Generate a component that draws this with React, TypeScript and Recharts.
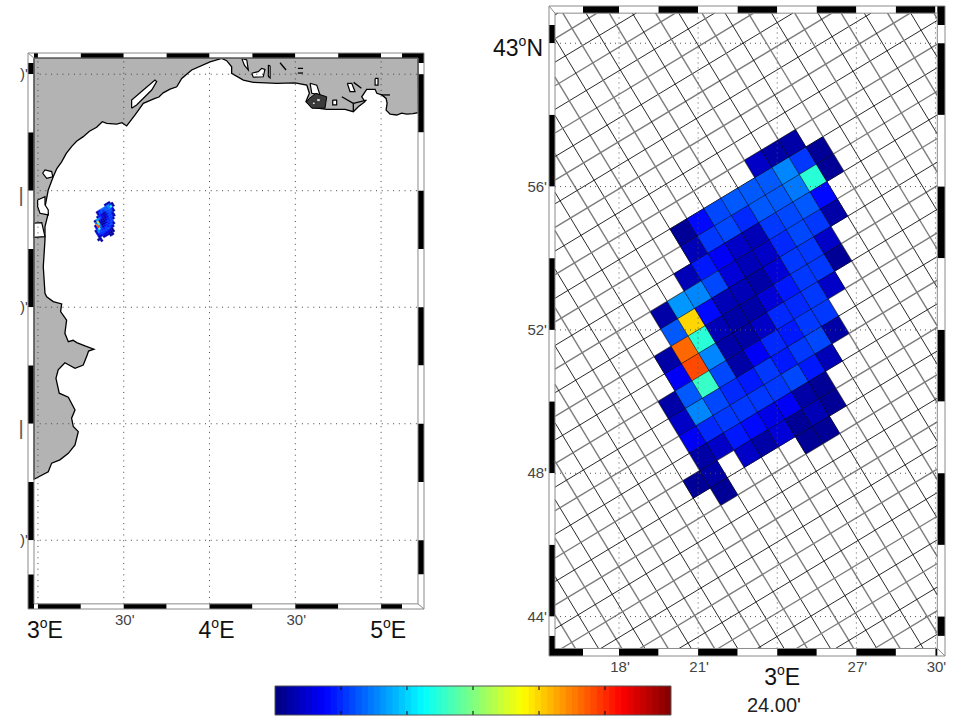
import React from "react";
import { ScatterChart, Scatter, XAxis, YAxis, ReferenceArea } from "recharts";

const W = 955, H = 717;
const FONT = "'Liberation Sans', Arial, sans-serif";

type P = { x: number; y: number };
const pts = (a: number[][]): P[] => a.map(([x, y]) => ({ x, y }));

// ---------- left map (degrees) ----------
const coast = [
  [2.977,43.569],[5.215,43.569],[5.217,43.335],[5.185,43.331],[5.150,43.329],[5.120,43.333],[5.091,43.325],[5.052,43.329],[5.029,43.346],[5.035,43.375],[5.029,43.396],
  [5.004,43.411],[4.975,43.418],[4.965,43.435],[4.916,43.435],[4.887,43.403],[4.906,43.382],[4.867,43.360],[4.838,43.339],
  [4.790,43.349],[4.683,43.349],[4.596,43.358],[4.562,43.382],[4.582,43.418],[4.567,43.453],[4.498,43.463],[4.392,43.461],
  [4.255,43.465],[4.197,43.475],[4.129,43.504],[4.129,43.532],[4.100,43.558],[4.071,43.568],[4.003,43.553],[3.896,43.518],
  [3.838,43.482],[3.809,43.446],[3.770,43.436],[3.730,43.420],[3.705,43.402],[3.682,43.396],[3.614,43.375],[3.590,43.350],[3.566,43.325],[3.517,43.278],[3.490,43.292],[3.459,43.286],
  [3.401,43.289],[3.375,43.296],[3.342,43.272],[3.300,43.255],[3.264,43.232],[3.225,43.212],[3.196,43.189],[3.165,43.160],[3.138,43.124],[3.110,43.095],[3.089,43.060],[3.060,43.003],[3.041,42.931],
  [3.060,42.903],[3.041,42.846],[3.041,42.789],[3.031,42.674],[3.041,42.560],[3.051,42.545],[3.089,42.524],[3.138,42.514],
  [3.132,42.481],[3.167,42.445],[3.157,42.388],[3.177,42.352],[3.205,42.358],[3.226,42.348],[3.274,42.334],[3.326,42.320],[3.295,42.312],[3.287,42.295],
  [3.264,42.252],[3.216,42.238],[3.157,42.262],[3.118,42.231],[3.105,42.195],[3.124,42.131],[3.177,42.114],[3.216,42.059],
  [3.196,42.024],[3.206,41.988],[3.235,41.966],[3.216,41.909],[3.177,41.873],[3.128,41.845],[3.080,41.831],[3.060,41.794],
  [2.977,41.762],[2.977,43.569],
];
const lagoons = [
  [[3.546,43.354],[3.546,43.389],[3.614,43.432],[3.682,43.475],[3.692,43.468],[3.663,43.432],[3.575,43.368],[3.546,43.354]],
  [[3.027,43.075],[3.041,43.089],[3.080,43.082],[3.086,43.060],[3.051,43.053],[3.027,43.075]],
  [[2.977,42.861],[3.022,42.863],[3.041,42.803],[2.977,42.800],[2.977,42.861]],
  [[2.998,42.960],[3.041,42.974],[3.041,42.939],[3.060,42.918],[3.060,42.896],[3.012,42.903],[2.998,42.932],[2.998,42.960]],
  [[4.246,43.504],[4.284,43.511],[4.304,43.525],[4.323,43.521],[4.313,43.489],[4.255,43.487],[4.246,43.504]],
  [[4.188,43.568],[4.217,43.561],[4.226,43.518],[4.203,43.539],[4.188,43.568]],
  [[4.343,43.539],[4.353,43.535],[4.353,43.484],[4.343,43.490],[4.343,43.539]],
  [[4.586,43.461],[4.625,43.453],[4.644,43.411],[4.596,43.418],[4.586,43.461]],
  [[4.718,43.389],[4.741,43.389],[4.741,43.368],[4.718,43.368],[4.718,43.389]],
  [[4.803,43.461],[4.829,43.461],[4.848,43.425],[4.819,43.425],[4.803,43.461]],
  [[4.965,43.482],[4.982,43.482],[4.982,43.453],[4.965,43.453],[4.965,43.482]],
];
const marsh = [[4.580,43.395],[4.620,43.418],[4.683,43.403],[4.673,43.354],[4.596,43.354],[4.565,43.380],[4.580,43.395]];
const marshHoles = [
  [[4.625,43.395],[4.645,43.395],[4.645,43.383],[4.625,43.383],[4.625,43.395]],
  [[4.600,43.380],[4.615,43.380],[4.615,43.370],[4.600,43.370],[4.600,43.380]],
];
const shoreLines = [
  [[4.771,43.403],[4.838,43.375],[4.838,43.339]],
  [[4.838,43.375],[4.916,43.389]],
  [[5.000,43.411],[5.052,43.411]],
  [[4.411,43.549],[4.446,43.518]],
  [[4.515,43.525],[4.545,43.525]],
  [[4.515,43.505],[4.545,43.505]],
  [[4.840,43.465],[4.885,43.440]],
];
const leftLonTicks = [3, 3.5, 4, 4.5, 5];
const leftLonLabels: Record<number, [string, string, string]> = {
  3: ["3", "o", "E"], 3.5: ["30'", "", ""], 4: ["4", "o", "E"], 4.5: ["30'", "", ""], 5: ["5", "o", "E"],
};
const leftLatTicks = [43.5, 43, 42.5, 42, 41.5];
const leftLatLabels: Record<number, string> = { 43.5: ")'", 43: "|", 42.5: ")'", 42: "|", 41.5: ")'" };
const leftLonBreaks = [2.977, 3, 3.25, 3.5, 3.75, 4, 4.25, 4.5, 4.75, 5, 5.122, 5.215];
const leftLatBreaks = [43.569, 43.548, 43.5, 43.25, 43, 42.75, 42.5, 42.25, 42, 41.75, 41.5, 41.353, 41.227];
const leftDomX: [number, number] = [2.942, 5.25];
const leftDomY: [number, number] = [41.205, 43.591];

// ---------- right map (minutes: lon past 3E, lat past 42N) ----------
const rightLonTicks = [18, 21, 24, 27, 30];
const rightLonLabels: Record<number, string> = { 18: "18'", 21: "21'", 27: "27'", 30: "30'" };
const rightLatTicks = [60, 56, 52, 48, 44];
const rightLatLabels: Record<number, string> = { 56: "56'", 52: "52'", 48: "48'", 44: "44'" };
const rightLonBreaks = [15.573, 16.635, 18, 19.5, 21, 22.5, 24, 25.5, 27, 28.5, 30, 30.07];
const rightLatBreaks = [60.84, 60.51, 60, 58, 56, 54, 52, 50, 48, 46, 44, 43.46, 43.11];
const rightDomX: [number, number] = [15.345, 30.362];
const rightDomY: [number, number] = [42.9, 61.04];

// model mesh georeference
const meshOrigin = { lon: 25.36, lat: 56.24 };
const stepAlong = { lon: 0.6447, lat: 0.2862 };
const stepAcross = { lon: 0.3963, lat: -0.483 };

// cell values (percent of colour scale); row index, first column, values
const rowIndex = [-2, -1, 0, 1, 2, 3, 4, 5, 6, 7, 8, 9, 10, 11];
const rowFirst = [-2, -7, -7, -8, -10, -10, -11, -11, -12, -12, -12, -12, -13, -12];
const rowValues: (number | null)[][] = [
  [7.5, 3.5, 3.5],
  [3, 12.5, 20, 21.5, 21, 21.5, 26, 18.5, 3],
  [5.5, 17.5, 20, 16.5, 21.5, 21.5, 23.5, 42, 3],
  [5.5, 14.5, 12, 7.5, 5, 17.5, 20, 21, 12.5],
  [3.5, 27, 25, 20, 9, 5.5, 7.5, 16.5, 19, 18.5, 3.5],
  [21, 66, 12.5, 5.5, 5.5, 4, 9, 17.5, 17.5, 7],
  [4, 78, 42, 5.5, 4, 4, 9, 15.5, 18.5, 17.5, 3],
  [11, 81, 26, 4, 4, 7.5, 16.5, 16.5, 17.5, 7.5],
  [3.5, 21, 43, 20, 4, 11, 16.5, 15.5, 17.5, 17.5],
  [7.5, 26, 19, 16.5, 15.5, 17.5, 15.5, 17.5, 20, 4],
  [11, 16.5, 17.5, 17.5, 18.5, 17.5, 19, 15, 5.5],
  [4.5, 7, 14.5, 12.5, 10.5, 11, 3.5, 3],
  [2.5, 4, null, 6.5, 4, 9, 3, 5.5, 2.5],
  [3, null, null, null, null, 3, 3],
];

const colorLevels = Array.from({ length: 64 }, (_, k) => k);
const colorTicks = [10.67, 21.33, 32, 42.67, 53.33];

// ---------- helpers ----------
const clamp = (v: number) => Math.max(0, Math.min(1, v));
const jet = (t: number) => {
  const r = clamp(Math.min(4 * t - 1.5, -4 * t + 4.5));
  const g = clamp(Math.min(4 * t - 0.5, -4 * t + 3.5));
  const b = clamp(Math.min(4 * t + 0.5, -4 * t + 2.5));
  return `rgb(${Math.round(r * 255)},${Math.round(g * 255)},${Math.round(b * 255)})`;
};
const levelColor = (pct: number) => jet((Math.floor((pct / 100) * 64) + 0.5) / 64);

const node = (a: number, b: number): P => ({
  x: meshOrigin.lon + a * stepAlong.lon + b * stepAcross.lon,
  y: meshOrigin.lat + a * stepAlong.lat + b * stepAcross.lat,
});

const cells = rowIndex.flatMap((j, r) =>
  rowValues[r].flatMap((v, k) => {
    if (v === null) return [];
    const i = rowFirst[r] + k;
    return [{
      v,
      poly: [node(i - 0.5, j - 0.5), node(i + 0.5, j - 0.5), node(i + 0.5, j + 0.5), node(i - 0.5, j + 0.5), node(i - 0.5, j - 0.5)],
    }];
  })
);

const noShape = () => null;
const seg = (key: string, data: P[], stroke: string, strokeWidth: number, extra: any = {}) => (
  <Scatter
    key={key}
    data={data}
    line={{ stroke, strokeWidth, fill: "none", ...extra }}
    shape={noShape as any}
    isAnimationActive={false}
    legendType="none"
  />
);

// clip a segment to the inner frame
const clip = (a: P, b: P, x0: number, x1: number, y0: number, y1: number): P[] | null => {
  let t0 = 0, t1 = 1;
  const dx = b.x - a.x, dy = b.y - a.y;
  const tests: [number, number][] = [[-dx, a.x - x0], [dx, x1 - a.x], [-dy, a.y - y0], [dy, y1 - a.y]];
  for (const [p, q] of tests) {
    if (p === 0) { if (q < 0) return null; continue; }
    const r = q / p;
    if (p < 0) { if (r > t1) return null; if (r > t0) t0 = r; }
    else { if (r < t0) return null; if (r < t1) t1 = r; }
  }
  return [{ x: a.x + t0 * dx, y: a.y + t0 * dy }, { x: a.x + t1 * dx, y: a.y + t1 * dy }];
};

const stripes = (breaks: number[], startBlack: boolean, make: (a: number, b: number, fill: string, k: number) => React.ReactNode) =>
  breaks.slice(0, -1).map((b, k) => make(b, breaks[k + 1], (k % 2 === 0) === startBlack ? "#000" : "#fff", k));

const frame = (
  prefix: string,
  dx: [number, number],
  dy: [number, number],
  ix: [number, number],
  iy: [number, number],
  lonB: number[],
  latB: number[],
  topBlack: boolean,
  leftBlack: boolean
) => {
  const area = (key: string, x1: number, x2: number, y1: number, y2: number, fill: string) => (
    <ReferenceArea key={key} x1={x1} x2={x2} y1={y1} y2={y2} fill={fill} fillOpacity={1} stroke="none" />
  );
  const topB = [...lonB];
  const botB = [...lonB];
  const leftB = [...latB];
  const rightB = [...latB];
  if (prefix === "L") {
    topB[topB.length - 1] = dx[1];
  } else {
    botB[0] = dx[0];
  }
  leftB[leftB.length - 1] = dy[0];
  rightB[0] = dy[1];
  return [
    ...stripes(topB, topBlack, (a, b, f, k) => area(`${prefix}t${k}`, a, b, iy[1], dy[1], f)),
    ...stripes(botB, !topBlack, (a, b, f, k) => area(`${prefix}b${k}`, a, b, dy[0], iy[0], f)),
    ...stripes(leftB, leftBlack, (a, b, f, k) => area(`${prefix}l${k}`, dx[0], ix[0], b, a, f)),
    ...stripes(rightB, !leftBlack, (a, b, f, k) => area(`${prefix}r${k}`, ix[1], dx[1], b, a, f)),
    seg(`${prefix}outer`, pts([[dx[0], dy[0]], [dx[1], dy[0]], [dx[1], dy[1]], [dx[0], dy[1]], [dx[0], dy[0]]]), "#8a8a8a", 1),
    seg(`${prefix}inner`, pts([[ix[0], iy[0]], [ix[1], iy[0]], [ix[1], iy[1]], [ix[0], iy[1]], [ix[0], iy[0]]]), "#8a8a8a", 1),
    seg(`${prefix}d1`, pts([[dx[0], dy[1]], [ix[0], iy[1]]]), "#8a8a8a", 1),
    seg(`${prefix}d2`, pts([[dx[1], dy[0]], [ix[1], iy[0]]]), "#8a8a8a", 1),
  ];
};

const BigLabel = ({ x, y, parts, anchor = "middle" }: { x: number; y: number; parts: string[]; anchor?: string }) => (
  <text x={x} y={y} textAnchor={anchor as any} fontFamily={FONT} fontSize={23} fill="#111">
    {parts[0]}
    <tspan fontSize={14} dy={-10}>{parts[1]}</tspan>
    <tspan dy={10}>{parts[2]}</tspan>
  </text>
);
const SmallLabel = ({ x, y, label, anchor = "middle" }: { x: number; y: number; label: string; anchor?: string }) => (
  <text x={x} y={y} textAnchor={anchor as any} fontFamily={FONT} fontSize={15} fill="#444">{label}</text>
);

const abs: React.CSSProperties = { position: "absolute", left: 0, top: 0, width: W, height: H };

const LeftMap = () => {
  const lonTick = (p: any) => {
    const l = leftLonLabels[p.payload.value];
    return l[1] ? <BigLabel x={p.x + 7} y={638} parts={l} /> : <SmallLabel x={p.x + 1} y={625} label={l[0]} />;
  };
  const latTick = (p: any) => {
    const l = leftLatLabels[p.payload.value];
    return l === "|"
      ? <text x={18.5} y={p.y + 11} fontFamily={FONT} fontSize={20} fill="#555">{l}</text>
      : <text x={20} y={p.y + 5} fontFamily={FONT} fontSize={15} fill="#444">{l}</text>;
  };
  return (
    <div style={abs}>
      <ScatterChart width={W} height={H} margin={{ left: 0, top: 53, right: W - 424, bottom: H - 609 - 40 }}>
        <XAxis type="number" dataKey="x" domain={leftDomX} ticks={leftLonTicks} interval={0} height={40} tick={lonTick} tickLine={false} axisLine={false} />
        <YAxis type="number" dataKey="y" domain={leftDomY} ticks={leftLatTicks} interval={0} width={28} tick={latTick} tickLine={false} axisLine={false} />
        {seg("coast", pts(coast), "#000", 1.3, { fill: "#b3b3b3" })}
        {lagoons.map((l, k) => seg(`lag${k}`, pts(l), "#000", 1.2, { fill: "#fff" }))}
        {seg("marsh", pts(marsh), "#000", 1, { fill: "#3a3a3a" })}
        {marshHoles.map((l, k) => seg(`mh${k}`, pts(l), "#000", 0.5, { fill: "#ddd" }))}
        {shoreLines.map((l, k) => seg(`sh${k}`, pts(l), "#000", 1.3))}
        {cells.map((c, k) =>
          seg(`lc${k}`, c.poly.map((q) => ({ x: 3.005 + q.x / 60, y: 41.995 + q.y / 60 })), levelColor(c.v), 0.4, { fill: levelColor(c.v) })
        )}
        {leftLonTicks.map((t) => seg(`lv${t}`, pts([[t, 41.227], [t, 43.569]]), "#444", 1, { strokeDasharray: "1 4.7" }))}
        {leftLatTicks.map((t) => seg(`lh${t}`, pts([[2.977, t], [5.215, t]]), "#444", 1, { strokeDasharray: "1 4.7" }))}
        {frame("L", leftDomX, leftDomY, [2.977, 5.215], [41.227, 43.569], leftLonBreaks, leftLatBreaks, true, false)}
      </ScatterChart>
    </div>
  );
};

const RightMap = () => {
  const ix: [number, number] = [15.573, 30.07];
  const iy: [number, number] = [43.11, 60.84];
  const lines: React.ReactNode[] = [];
  for (let n = -40; n <= 40; n++) {
    const black = ((n % 2) + 2) % 2 === 0;
    const a = clip(node(-60, n + 0.5), node(60, n + 0.5), ix[0], ix[1], iy[0], iy[1]);
    if (a) lines.push(seg(`ga${n}`, a, black ? "#111" : "#7c7c7c", black ? 0.9 : 1.4));
    const b = clip(node(n + 0.5, -60), node(n + 0.5, 60), ix[0], ix[1], iy[0], iy[1]);
    if (b) lines.push(seg(`gb${n}`, b, black ? "#111" : "#7c7c7c", black ? 0.9 : 1.4));
  }
  const lonTick = (p: any) => {
    const v = p.payload.value;
    return v === 24 ? <BigLabel x={p.x + 5} y={685} parts={["3", "o", "E"]} /> : <SmallLabel x={p.x + 1} y={672} label={rightLonLabels[v]} />;
  };
  const latTick = (p: any) => {
    const v = p.payload.value;
    return v === 60 ? <BigLabel x={543} y={p.y + 13} parts={["43", "o", "N"]} anchor="end" /> : <SmallLabel x={547} y={p.y + 5} label={rightLatLabels[v]} anchor="end" />;
  };
  return (
    <div style={abs}>
      <ScatterChart width={W} height={H} margin={{ left: 0, top: 6, right: W - 945, bottom: H - 656 - 40 }}>
        <XAxis type="number" dataKey="x" domain={rightDomX} ticks={rightLonTicks} interval={0} height={40} tick={lonTick} tickLine={false} axisLine={false} />
        <YAxis type="number" dataKey="y" domain={rightDomY} ticks={rightLatTicks} interval={0} width={549} tick={latTick} tickLine={false} axisLine={false} />
        {lines}
        {cells.map((c, k) => seg(`rc${k}`, c.poly, "rgba(0,0,0,0.5)", 0.8, { fill: levelColor(c.v) }))}
        {rightLonTicks.map((t) => seg(`rv${t}`, pts([[t, iy[0]], [t, iy[1]]]), "#555", 1, { strokeDasharray: "1 4" }))}
        {rightLatTicks.map((t) => seg(`rh${t}`, pts([[ix[0], t], [ix[1], t]]), "#555", 1, { strokeDasharray: "1 4" }))}
        {frame("R", rightDomX, rightDomY, ix, iy, rightLonBreaks, rightLatBreaks, false, false)}
      </ScatterChart>
    </div>
  );
};

const ColorBar = () => (
  <div style={abs}>
    <ScatterChart width={W} height={H} margin={{ left: 275, top: 686, right: W - 671, bottom: H - 715 }}>
      <XAxis type="number" dataKey="x" domain={[0, 64]} hide />
      <YAxis type="number" dataKey="y" domain={[0, 1]} hide />
      {colorLevels.map((k) => (
        <ReferenceArea key={k} x1={k} x2={Math.min(64, k + 1.2)} y1={0} y2={1} fill={jet((k + 0.5) / 64)} fillOpacity={1} stroke="none" />
      ))}
      {colorTicks.map((t) => seg(`ct${t}`, pts([[t, 0], [t, 0.14]]), "#000", 1))}
      {colorTicks.map((t) => seg(`cb${t}`, pts([[t, 0.86], [t, 1]]), "#000", 1))}
      {seg("cbox", pts([[0, 0], [64, 0], [64, 1], [0, 1], [0, 0]]), "#555", 1)}
    </ScatterChart>
  </div>
);

export default function App() {
  return (
    <div style={{ position: "absolute", left: 0, top: 0, width: W, height: H, background: "#fff" }}>
      <LeftMap />
      <RightMap />
      <ColorBar />
      <div style={{ position: "absolute", left: 747, top: 695, fontFamily: FONT, fontSize: 20, color: "#222", lineHeight: "20px" }}>24.00'</div>
    </div>
  );
}
